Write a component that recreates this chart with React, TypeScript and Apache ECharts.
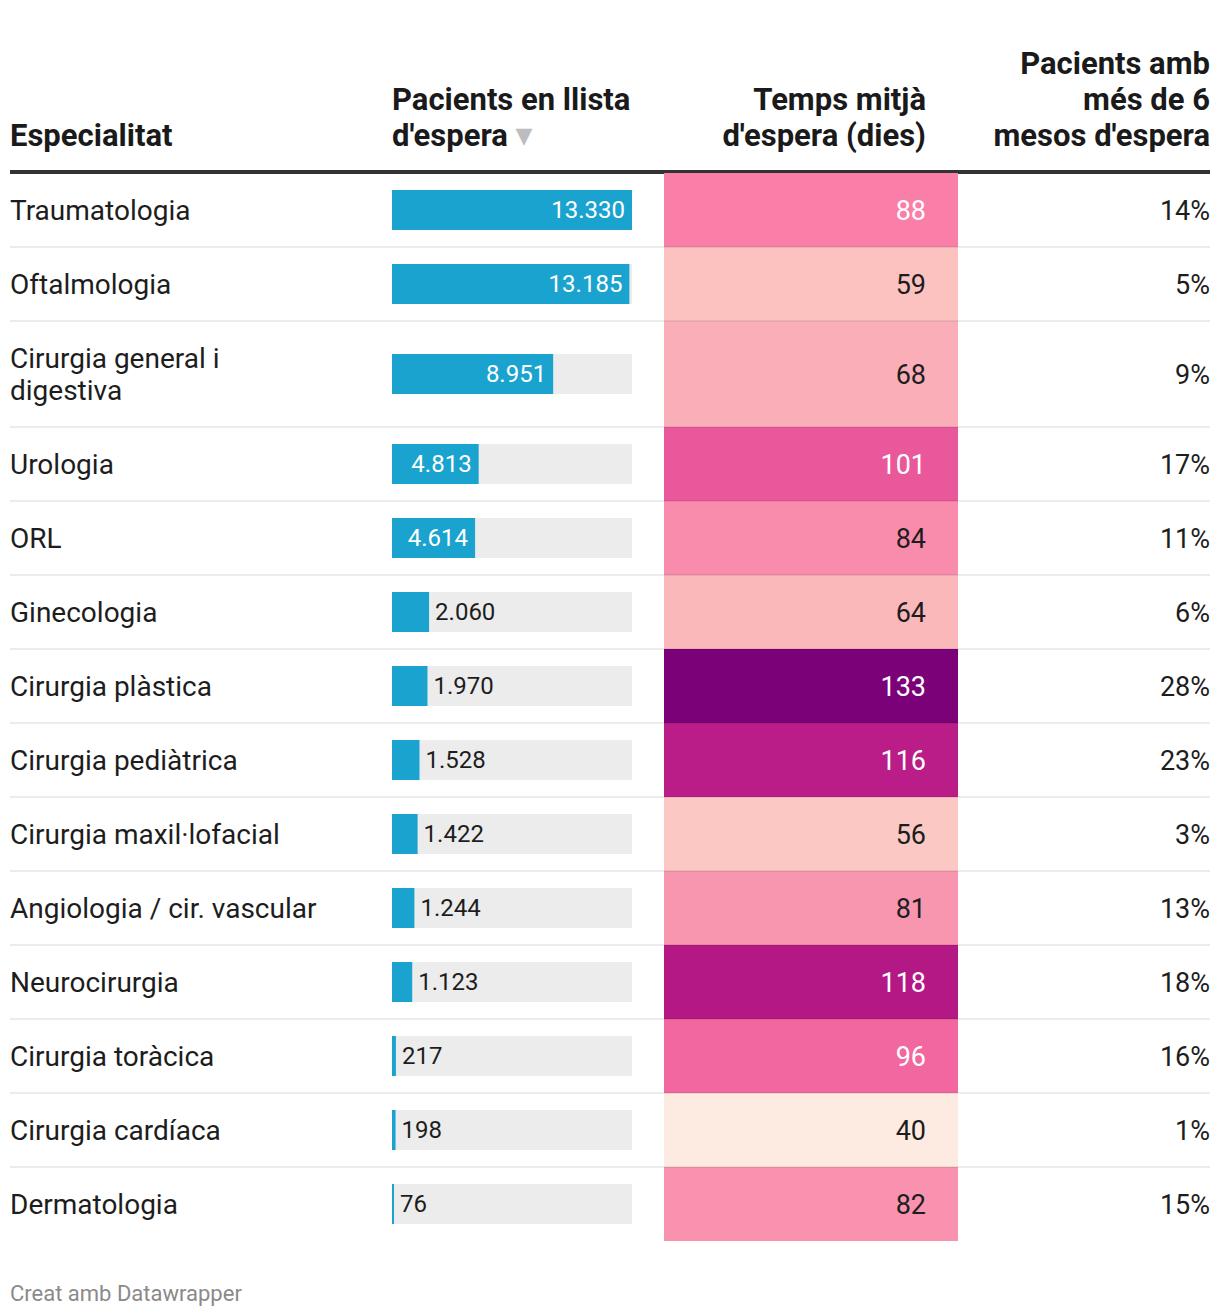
import React, { useEffect, useRef } from "react";
import * as echarts from "echarts";

// ---------- data ----------
const specialties = [
  "Traumatologia",
  "Oftalmologia",
  "Cirurgia general i\ndigestiva",
  "Urologia",
  "ORL",
  "Ginecologia",
  "Cirurgia plàstica",
  "Cirurgia pediàtrica",
  "Cirurgia maxil·lofacial",
  "Angiologia / cir. vascular",
  "Neurocirurgia",
  "Cirurgia toràcica",
  "Cirurgia cardíaca",
  "Dermatologia",
];
const patients = [13330, 13185, 8951, 4813, 4614, 2060, 1970, 1528, 1422, 1244, 1123, 217, 198, 76];
const avgDays = [88, 59, 68, 101, 84, 64, 133, 116, 56, 81, 118, 96, 40, 82];
const over6Months = [14, 5, 9, 17, 11, 6, 28, 23, 3, 13, 18, 16, 1, 15];

const headerSpecialty = ["Especialitat"];
const headerPatients = ["Pacients en llista", "d'espera"];
const headerDays = ["Temps mitjà", "d'espera (dies)"];
const headerOver6 = ["Pacients amb", "més de 6", "mesos d'espera"];
const footer = "Creat amb Datawrapper";

// colour ramp for the waiting-days column (RdPu-like)
const heatColors = [
  "#fdebe2", "#fcd3cc", "#fbbfbe", "#f9a9b6", "#f894af",
  "#fb74a4", "#e8559b", "#c7248c", "#a20f7f", "#7a0177",
];

// ---------- layout ----------
const W = 1220;
const H = 1316;
const FONT = "Roboto, 'Noto Sans', sans-serif";
const TEXT = "#1d1d1d";
const TABLE_TOP = 173;
const ROW_H = 74;
const LINE_H = 32;

const fmt = (v: number) => String(v).replace(/\B(?=(\d{3})+(?!\d))/g, ".");

export default function App() {
  const ref = useRef<HTMLDivElement>(null);

  useEffect(() => {
    document.body.style.margin = "0";
    if (!ref.current) return;
    const chart = echarts.init(ref.current, undefined, { renderer: "svg" });

    const heights = specialties.map((s) => ROW_H + LINE_H * (s.split("\n").length - 1));
    const tops: number[] = [];
    let acc = 0;
    heights.forEach((h) => {
      tops.push(acc);
      acc += h;
    });
    const tableH = acc;
    const rows = specialties.map((_, i) => [tops[i], tops[i] + heights[i], i]);
    const maxPatients = Math.max(...patients);

    const headerText = (lines: string[], x: number, align: string, extra?: any) => {
      const n = lines.length;
      return lines.map((t, k) => ({
        type: "text",
        x,
        y: 135 - (n - 1 - k) * 36,
        style: {
          text: t,
          fontFamily: FONT,
          fontWeight: "bold",
          fontSize: 31,
          fill: "#1a1a1a",
          align,
          verticalAlign: "middle",
          ...(k === n - 1 && extra ? extra : {}),
        },
      }));
    };

    const option: any = {
      animation: false,
      backgroundColor: "#ffffff",
      grid: [
        { left: 0, top: TABLE_TOP, width: W, height: tableH },
        { left: 392, top: TABLE_TOP, width: 240, height: tableH },
        { left: 664, top: TABLE_TOP, width: 294, height: tableH },
      ],
      xAxis: [
        { gridIndex: 0, type: "value", min: 0, max: W, show: false },
        { gridIndex: 1, type: "value", min: 0, max: maxPatients, show: false },
        { gridIndex: 2, type: "value", min: 0, max: 1, show: false },
      ],
      yAxis: [0, 1, 2].map((g) => ({
        gridIndex: g,
        type: "value",
        min: 0,
        max: tableH,
        inverse: true,
        show: false,
      })),
      visualMap: {
        type: "continuous",
        show: false,
        min: Math.min(...avgDays),
        max: Math.max(...avgDays),
        seriesIndex: 2,
        dimension: 3,
        inRange: { color: heatColors },
      },
      graphic: [
        ...headerText(headerSpecialty, 10, "left"),
        ...headerText(headerPatients, 392, "left", {
          text: headerPatients[1] + " {t|▼}",
          rich: { t: { fontSize: 22, fill: "#bdbdbd", fontFamily: "DejaVu Sans" } },
        }),
        ...headerText(headerDays, 926, "right"),
        ...headerText(headerOver6, 1210, "right"),
        {
          type: "rect",
          shape: { x: 10, y: 170, width: 1200, height: 4 },
          style: { fill: "#333333" },
        },
        {
          type: "text",
          x: 10,
          y: 1293,
          style: {
            text: footer,
            fontFamily: FONT,
            fontSize: 22,
            fill: "#8a8a8a",
            align: "left",
            verticalAlign: "middle",
          },
        },
      ],
      series: [
        // names + percentages
        {
          type: "custom",
          xAxisIndex: 0,
          yAxisIndex: 0,
          data: rows,
          encode: { x: -1, y: [0, 1] },
          renderItem: (params: any, api: any) => {
            const top = api.value(0);
            const bottom = api.value(1);
            const i = api.value(2);
            const mid = (top + bottom) / 2;
            const pL = api.coord([10, mid]);
            const pR = api.coord([1210, mid]);
            return {
              type: "group",
              children: [
                {
                  type: "text",
                  style: {
                    text: specialties[i],
                    x: pL[0],
                    y: pL[1],
                    fontFamily: FONT,
                    fontSize: 28,
                    lineHeight: LINE_H,
                    fill: TEXT,
                    align: "left",
                    verticalAlign: "middle",
                  },
                },
                {
                  type: "text",
                  style: {
                    text: over6Months[i] + "%",
                    x: pR[0],
                    y: pR[1] + 1,
                    fontFamily: FONT,
                    fontSize: 27,
                    fill: TEXT,
                    align: "right",
                    verticalAlign: "middle",
                  },
                },
              ],
            };
          },
        },
        // bars
        {
          type: "custom",
          xAxisIndex: 1,
          yAxisIndex: 1,
          data: rows.map((r, i) => [r[0], r[1], i, patients[i]]),
          encode: { x: 3, y: [0, 1] },
          renderItem: (params: any, api: any) => {
            const cs = params.coordSys;
            const top = api.value(0);
            const bottom = api.value(1);
            const v = api.value(3);
            const mid = (top + bottom) / 2;
            const p0 = api.coord([0, mid]);
            const p1 = api.coord([v, mid]);
            const bw = p1[0] - p0[0];
            const inside = bw > 70;
            return {
              type: "group",
              children: [
                {
                  type: "rect",
                  shape: { x: cs.x, y: p0[1] - 20, width: cs.width, height: 40 },
                  style: { fill: "#ececec" },
                },
                {
                  type: "rect",
                  shape: { x: p0[0], y: p0[1] - 20, width: Math.max(bw, 2), height: 40 },
                  style: { fill: "#1aa3cf" },
                },
                {
                  type: "text",
                  style: {
                    text: fmt(v),
                    x: inside ? p1[0] - 7 : Math.max(p1[0], p0[0] + 2) + 6,
                    y: p0[1],
                    fontFamily: FONT,
                    fontSize: 24,
                    fill: inside ? "#ffffff" : TEXT,
                    align: inside ? "right" : "left",
                    verticalAlign: "middle",
                  },
                },
              ],
            };
          },
        },
        // heat column
        {
          type: "custom",
          xAxisIndex: 2,
          yAxisIndex: 2,
          data: rows.map((r, i) => [r[0], r[1], i, avgDays[i]]),
          encode: { x: -1, y: [0, 1] },
          renderItem: (params: any, api: any) => {
            const cs = params.coordSys;
            const top = api.value(0);
            const bottom = api.value(1);
            const v = api.value(3);
            const pt = api.coord([0, top]);
            const pb = api.coord([0, bottom]);
            const dark = v >= 86;
            return {
              type: "group",
              children: [
                {
                  type: "rect",
                  shape: { x: cs.x, y: pt[1], width: cs.width, height: pb[1] - pt[1] },
                  style: { fill: api.visual("color") },
                },
                {
                  type: "text",
                  style: {
                    text: String(v),
                    x: cs.x + cs.width - 32,
                    y: (pt[1] + pb[1]) / 2 + 1,
                    fontFamily: FONT,
                    fontSize: 27,
                    fill: dark ? "#ffffff" : TEXT,
                    align: "right",
                    verticalAlign: "middle",
                  },
                },
              ],
            };
          },
        },
        // row separators
        {
          type: "custom",
          xAxisIndex: 0,
          yAxisIndex: 0,
          z: 10,
          data: rows.slice(0, rows.length - 1),
          encode: { x: -1, y: [0, 1] },
          renderItem: (params: any, api: any) => {
            const bottom = api.value(1);
            const a = api.coord([10, bottom]);
            const b = api.coord([1210, bottom]);
            return {
              type: "line",
              shape: { x1: a[0], y1: a[1], x2: b[0], y2: b[1] },
              style: { stroke: "rgba(0,0,0,0.075)", lineWidth: 2 },
            };
          },
        },
      ],
    };

    chart.setOption(option);
    return () => chart.dispose();
  }, []);

  return <div ref={ref} style={{ width: W, height: H }} />;
}
